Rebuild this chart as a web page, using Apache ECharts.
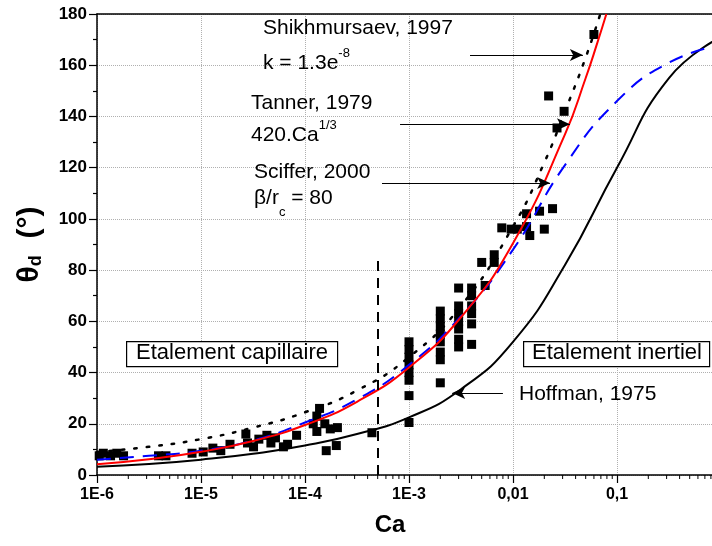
<!DOCTYPE html>
<html><head><meta charset="utf-8">
<script src="https://cdn.jsdelivr.net/npm/echarts@6/dist/echarts.min.js"></script>
<style>html,body{margin:0;padding:0;background:#fff}#c{width:712px;height:546px}</style>
</head><body><div id="c"></div>
<script>
// ---- axis ticks ----
const xTickValues = [1e-6, 1e-5, 1e-4, 1e-3, 1e-2, 1e-1, 1];
const xTickLabels = ['1E-6', '1E-5', '1E-4', '1E-3', '0,01', '0,1', ''];
const xMinorMultipliers = [2, 3, 4, 5, 6, 7, 8, 9];
const yTickLabels = [0, 20, 40, 60, 80, 100, 120, 140, 160, 180];

// ---- experimental points ----
const pointsCa = [
  1.05e-6, 1.15e-6, 1.35e-6, 1.55e-6, 1.8e-6, 3.9e-6, 4.6e-6, 8.2e-6, 1.05e-5, 1.3e-5,
  1.55e-5, 1.9e-5, 2.7e-5, 2.8e-5, 3.2e-5, 3.6e-5, 4.3e-5, 4.7e-5, 5.2e-5, 6.2e-5,
  6.8e-5, 8.3e-5, 1.2e-4, 1.3e-4, 1.38e-4, 1.3e-4, 1.55e-4, 1.75e-4, 2.05e-4, 1.6e-4,
  2.0e-4, 4.4e-4,
  1e-3, 1e-3, 1e-3, 1e-3, 1e-3, 1e-3, 1e-3, 1e-3,
  2e-3, 2e-3, 2e-3, 2e-3, 2e-3, 2e-3, 2e-3, 2e-3,
  3e-3, 3e-3, 3e-3, 3e-3, 3e-3, 3e-3, 3e-3,
  4e-3, 4e-3, 4e-3, 4e-3, 4e-3, 4e-3,
  5e-3, 5.4e-3, 6.6e-3, 6.6e-3,
  7.8e-3, 9.6e-3, 1.1e-2, 1.35e-2, 1.45e-2, 1.35e-2, 1.8e-2, 2.0e-2, 2.4e-2,
  2.2e-2, 2.65e-2, 3.1e-2, 6.0e-2
];
const pointsTheta = [
  7.5, 8.5, 7.5, 8.5, 7.5, 7.5, 7.5, 8.5, 9, 10.5,
  9.5, 12, 16, 12.5, 11, 14, 15.5, 12.5, 14.5, 11,
  12, 15.5, 20, 23, 26, 17, 20, 18, 18.5, 9.5,
  11.5, 16.5,
  52, 49, 46, 43, 40, 37, 31, 20.5,
  64, 61, 58, 55, 52, 48, 45, 36,
  73, 66, 63, 60, 57, 53, 50,
  73, 70, 66, 63, 59, 51,
  83, 74, 86, 83,
  96.5, 96, 96, 97, 93.5, 102, 103, 96, 104,
  148, 135.5, 142, 172
];

// ---- model curves ----
const tannerCa = [1e-6, 3.16e-6, 1e-5, 3.16e-5, 1e-4, 3.16e-4, 1e-3, 3.16e-3, 1e-2, 3.16e-2, 5e-2, 6.5e-2, 7.9e-2];
const tannerTheta = [4.2, 6.15, 9.05, 13.3, 19.5, 28.6, 42, 61.6, 90.5, 133, 155, 169, 180];

const shikhCa = [1e-6, 3.16e-6, 1e-5, 3.16e-5, 1e-4, 3.16e-4, 1e-3, 3.16e-3, 1e-2, 2e-2, 3.16e-2, 5e-2, 6.9e-2];
const shikhTheta = [9, 11, 14, 18.5, 24.5, 33, 46, 66, 97, 122, 142, 163, 180];

const scifferCa = [1e-6, 3.16e-6, 1e-5, 3.16e-5, 1e-4, 3.16e-4, 1e-3, 3.16e-3, 1e-2, 3.16e-2, 0.1, 0.316, 1];
const scifferTheta = [6, 7.5, 9.5, 13.5, 20.5, 29.5, 43, 62, 88, 121, 146, 161, 168];

const hoffmanCa = [1e-6, 3.16e-6, 1e-5, 3.16e-5, 1e-4, 3.16e-4, 1e-3, 3.16e-3, 1e-2, 3.16e-2, 0.1, 0.316, 1];
const hoffmanTheta = [3.2, 4.3, 6, 8.3, 11.5, 16, 22.5, 33.5, 52, 82, 120, 155, 171];

// transition line and annotation arrows [Ca, theta] pairs
const transitionCa = 5e-4;
const transitionTheta = [0, 85];
const arrows = [
  [[3.86e-3, 164], [0.047, 164]],
  [[8.2e-4, 137], [0.0353, 137]],
  [[5.5e-4, 114], [0.0227, 114]],
  [[8.0e-3, 32], [2.6e-3, 32]]
];

const zip = (a, b) => a.map((v, i) => [v, b[i]]);
const minorTickData = [];
xTickValues.slice(0, -1).forEach(d => xMinorMultipliers.forEach(m => minorTickData.push([d * m, 0])));
const FONT = 'Liberation Sans, Arial, sans-serif';

const chart = echarts.init(document.getElementById('c'), null, {renderer: 'canvas'});

const axisBlack = {lineStyle: {color: '#000', width: 1.5}};
const curve = {type: 'line', smooth: 0.5, showSymbol: false, symbol: 'none', silent: true};
const option = {
  animation: false,
  backgroundColor: '#fff',
  grid: {left: 97, width: 624, top: 14, bottom: 71, containLabel: false, outerBoundsMode: 'none'},
  xAxis: [{
    type: 'log', logBase: 10, min: 1e-6, max: 1, position: 'bottom',
    axisLine: axisBlack,
    axisTick: {show: true, inside: false, length: 8, lineStyle: {color: '#000', width: 1.2}},
    minorTick: {show: false},
    axisLabel: {
      color: '#000', fontFamily: FONT, fontWeight: 'bold', fontSize: 16, margin: 12,
      formatter: v => {
        const i = xTickValues.findIndex(t => Math.abs(Math.log10(t) - Math.log10(v)) < 1e-6);
        return i >= 0 ? xTickLabels[i] : '';
      }
    },
    splitLine: {show: true, lineStyle: {color: '#b0b0b0', type: 'dotted', width: 1}},
    name: 'Ca', nameLocation: 'middle', nameGap: 38,
    nameTextStyle: {color: '#000', fontFamily: FONT, fontWeight: 'bold', fontSize: 24, padding: [0, 38, 0, 0]}
  }, {
    type: 'log', logBase: 10, min: 1e-6, max: 1, position: 'top',
    axisLine: axisBlack, axisTick: {show: false}, axisLabel: {show: false}, splitLine: {show: false}
  }],
  yAxis: [{
    type: 'value', min: 0, max: 180, interval: 20,
    axisLine: {show: true, lineStyle: {color: '#000', width: 1.5}},
    axisTick: {show: true, inside: false, length: 8, lineStyle: {color: '#000', width: 1.2}},
    minorTick: {show: true, splitNumber: 2, length: 4, lineStyle: {color: '#000', width: 1.2}},
    axisLabel: {color: '#000', fontFamily: FONT, fontWeight: 'bold', fontSize: 17, margin: 10,
      formatter: v => String(yTickLabels[Math.round(v / 20)])},
    splitLine: {show: true, lineStyle: {color: '#b0b0b0', type: 'dotted', width: 1}},
    name: '{t|θ}{s|d}{t|  (°)}', nameLocation: 'middle', nameGap: 52, nameRotate: 90,
    nameTextStyle: {
      color: '#000', fontFamily: FONT, fontWeight: 'bold', fontSize: 30,
      rich: {
        t: {fontFamily: FONT, fontWeight: 'bold', fontSize: 30, color: '#000', verticalAlign: 'bottom', lineHeight: 34},
        s: {fontFamily: FONT, fontWeight: 'bold', fontSize: 18, color: '#000', verticalAlign: 'bottom', lineHeight: 26}
      }
    }
  }],
  series: [
    Object.assign({}, curve, {name: 'Hoffman', data: zip(hoffmanCa, hoffmanTheta), lineStyle: {color: '#000', width: 2}, z: 3}),
    Object.assign({}, curve, {name: 'Sciffer', data: zip(scifferCa, scifferTheta), lineStyle: {color: '#0000ff', width: 2, type: [14, 9]}, z: 3}),
    Object.assign({}, curve, {name: 'Shikhmursaev', data: zip(shikhCa, shikhTheta), lineStyle: {color: '#000', width: 2.5, type: [2.5, 10], cap: 'round'}, z: 3}),
    Object.assign({}, curve, {name: 'Tanner', data: zip(tannerCa, tannerTheta), lineStyle: {color: '#ff0000', width: 2}, z: 4}),
    {
      type: 'scatter', name: 'exp', data: zip(pointsCa, pointsTheta),
      symbol: 'rect', symbolSize: 9, itemStyle: {color: '#000', opacity: 1}, z: 2, silent: true,
      markLine: {
        silent: true, animation: false, symbol: ['none', 'arrow'], symbolSize: [9, 13],
        label: {show: false},
        lineStyle: {color: '#000', width: 1.2, type: 'solid', opacity: 1},
        data: arrows.map(a => [{coord: a[0]}, {coord: a[1]}]).concat([
          [{coord: [transitionCa, transitionTheta[0]], symbol: 'none', lineStyle: {type: [10, 7], width: 2, color: '#000'}},
           {coord: [transitionCa, transitionTheta[1]], symbol: 'none'}]
        ])
      }
    },
    {
      type: 'custom', name: 'minorTicks', data: minorTickData, clip: false, silent: true, z: 10,
      renderItem: (params, api) => {
        const p = api.coord([api.value(0), 0]);
        return {type: 'line', shape: {x1: p[0], y1: p[1], x2: p[0], y2: p[1] + 4}, style: {stroke: '#000', lineWidth: 1}};
      }
    }
  ],
  graphic: [
    {type: 'text', left: 263, top: 18, z: 100, style: {text: 'Shikhmursaev, 1997', font: '21px ' + FONT, fill: '#000'}},
    {type: 'text', left: 263, top: 47, z: 100, style: {
      text: '{a|k = 1.3e}{b|-8}', fill: '#000',
      rich: {a: {fontSize: 21, fontFamily: FONT, verticalAlign: 'bottom', lineHeight: 27}, b: {fontSize: 13, fontFamily: FONT, verticalAlign: 'top', lineHeight: 27}}}},
    {type: 'text', left: 251, top: 93, z: 100, style: {text: 'Tanner, 1979', font: '21px ' + FONT, fill: '#000'}},
    {type: 'text', left: 251, top: 119, z: 100, style: {
      text: '{a|420.Ca}{b|1/3}', fill: '#000',
      rich: {a: {fontSize: 21, fontFamily: FONT, verticalAlign: 'bottom', lineHeight: 27}, b: {fontSize: 13, fontFamily: FONT, verticalAlign: 'top', lineHeight: 27}}}},
    {type: 'text', left: 254, top: 162, z: 100, style: {text: 'Sciffer, 2000', font: '21px ' + FONT, fill: '#000'}},
    {type: 'text', left: 254, top: 188, z: 100, style: {
      text: '{a|β/r}{b|c}{a| = 80}', fill: '#000',
      rich: {a: {fontSize: 21, fontFamily: FONT, verticalAlign: 'top', lineHeight: 27}, b: {fontSize: 13, fontFamily: FONT, verticalAlign: 'bottom', lineHeight: 31}}}},
    {type: 'text', left: 519, top: 384, z: 100, style: {text: 'Hoffman, 1975', font: '21px ' + FONT, fill: '#000'}},
    {type: 'rect', left: 126, top: 341, z: 100, shape: {width: 211, height: 25}, style: {fill: '#fff', stroke: '#000', lineWidth: 1.2}},
    {type: 'text', left: 136, top: 342, z: 101, style: {text: 'Etalement capillaire', font: '22px ' + FONT, fill: '#000'}},
    {type: 'rect', left: 523, top: 341, z: 100, shape: {width: 186, height: 25}, style: {fill: '#fff', stroke: '#000', lineWidth: 1.2}},
    {type: 'text', left: 532, top: 342, z: 101, style: {text: 'Etalement inertiel', font: '22px ' + FONT, fill: '#000'}}
  ]
};
chart.setOption(option);
</script>
</body></html>
